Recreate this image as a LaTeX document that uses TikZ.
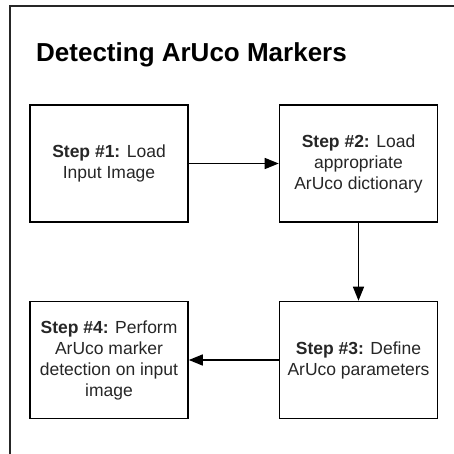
\documentclass[tikz,border=0pt]{standalone}
\usepackage{fontspec}
\setmainfont{Liberation Sans}
\usetikzlibrary{arrows.meta}

\begin{document}
\begin{tikzpicture}[x=1pt,y=-1pt,
	step_node/.style={rectangle,draw,line width=1.6pt,minimum width=158pt,minimum height=117pt,inner sep=2pt,align=center,font=\fontsize{17.5}{21}\selectfont,text=black!85},
	flow/.style={draw,line width=1.5pt,-{Triangle[length=14pt,width=11pt]}}]
				\useasboundingbox (0,0) rectangle (454,454);
				% frame, only top and left edges show
				\draw[line width=2pt,black!85] (10,454) -- (10,6) -- (454,6);
				\node[anchor=base west,inner sep=0pt,font=\fontsize{26}{30}\selectfont\bfseries] (title) at (36,62) {Detecting ArUco Markers};

				\node[step_node] (1) at (109,163.5){\textbf{Step \#1:} Load\\Input Image};
				\node[step_node] (2) at (358.5,163.5){\textbf{Step \#2:} Load\\appropriate\\ArUco dictionary};
				\node[step_node] (3) at (358.5,360){\textbf{Step \#3:} Define\\ArUco parameters};
				\node[step_node] (4) at (109,360){\textbf{Step \#4:} Perform\\ArUco marker\\detection on input\\image};

				\path[flow]
				(1) edge node {} (2)
				(2) edge node {} (3)
				(3) edge node {} (4)
				;
				\end{tikzpicture}
\end{document}
